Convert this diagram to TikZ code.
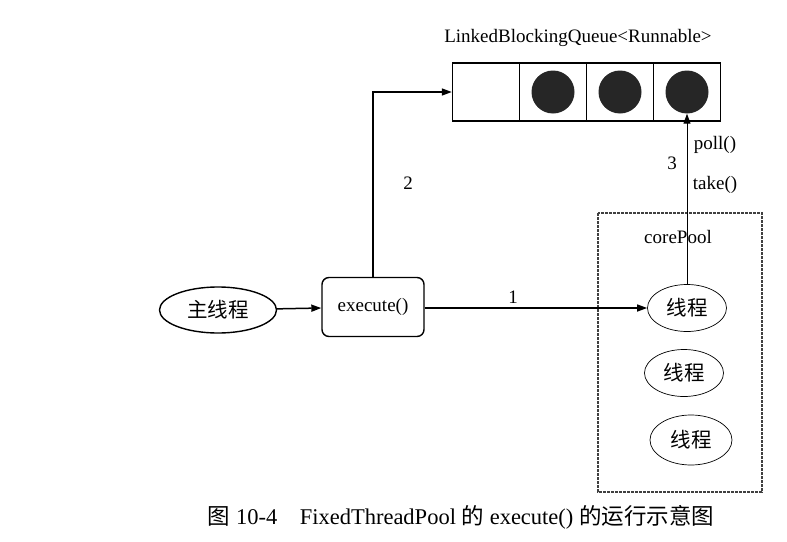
\documentclass[tikz,border=0pt]{standalone}
\usepackage{fontspec}
\setmainfont{Liberation Serif}
\newfontfamily\cjk{Noto Sans CJK SC}
\usetikzlibrary{arrows.meta,shapes.geometric}

\tikzset{
  arr/.style={line width=1.5pt,-{Triangle[length=10pt,width=7pt]}},
  cell/.style={draw,line width=1.4pt,minimum width=67pt,minimum height=58pt,inner sep=0pt},
  ball/.style={circle,fill=black!85,minimum size=43pt,inner sep=0pt},
  thread/.style={ellipse,draw,line width=0.7pt,minimum width=79pt,minimum height=47pt,
    inner sep=0pt,font={\cjk\fontsize{20.5}{24}\selectfont}},
}

\begin{document}
\fontsize{19}{23}\selectfont
\begin{tikzpicture}[x=1pt,y=-1pt]
                \useasboundingbox (0,0) rectangle (787,541);
                % queue
                \node (qtitle) at (578,38) {LinkedBlockingQueue<Runnable>};
                \node[cell] (q1) at (486,92) {};
                \node[cell] (q2) at (553,92) {};
                \node[cell] (q3) at (620,92) {};
                \node[cell] (q4) at (687,92) {};
                \node[ball] (c1) at (553,92) {};
                \node[ball] (c2) at (620,92) {};
                \node[ball] (c3) at (687,92) {};
                % main thread and execute()
                \node[ellipse,draw,line width=1.4pt,minimum width=117pt,minimum height=46pt,
                      inner sep=0pt,font={\cjk\fontsize{20.5}{24}\selectfont}] (mainth) at (218,310) {主线程};
                \node[draw,rounded corners=7pt,line width=1.4pt,minimum width=102pt,
                      minimum height=59pt] (exec) at (373,307) {execute()};
                % corePool
                \draw[line width=1.3pt,black!75,dash pattern=on 3pt off 1pt] (598,213) rectangle (762,492);
                \node (core) at (678,237) {corePool};
                \node[thread] (th1) at (687,308) {线程};
                \node[thread] (th2) at (684,373) {线程};
                \node[thread,minimum width=82pt,minimum height=50pt] (th3) at (691,440) {线程};
                % arrows
                \draw[arr] (mainth) -- (exec);
                \draw[arr] (exec.east |- th1) -- (th1.west);
                \draw[arr] (exec.north) |- (q1.west);
                \draw[arr,line width=1pt] (th1.north) -- (c3.south);
                \node (lbl1) at (513,297) {1};
                \node (lbl2) at (408,183) {2};
                \node (lbl3) at (672,163) {3};
                \node (poll) at (715,145) {poll()};
                \node (take) at (715,185) {take()};
                % caption
                \node[font=\fontsize{22.5}{26}\selectfont] (cap) at (461,517)
                     {{\cjk 图} 10-4\quad FixedThreadPool {\cjk 的} execute() {\cjk 的运行示意图}};
\end{tikzpicture}
\end{document}
